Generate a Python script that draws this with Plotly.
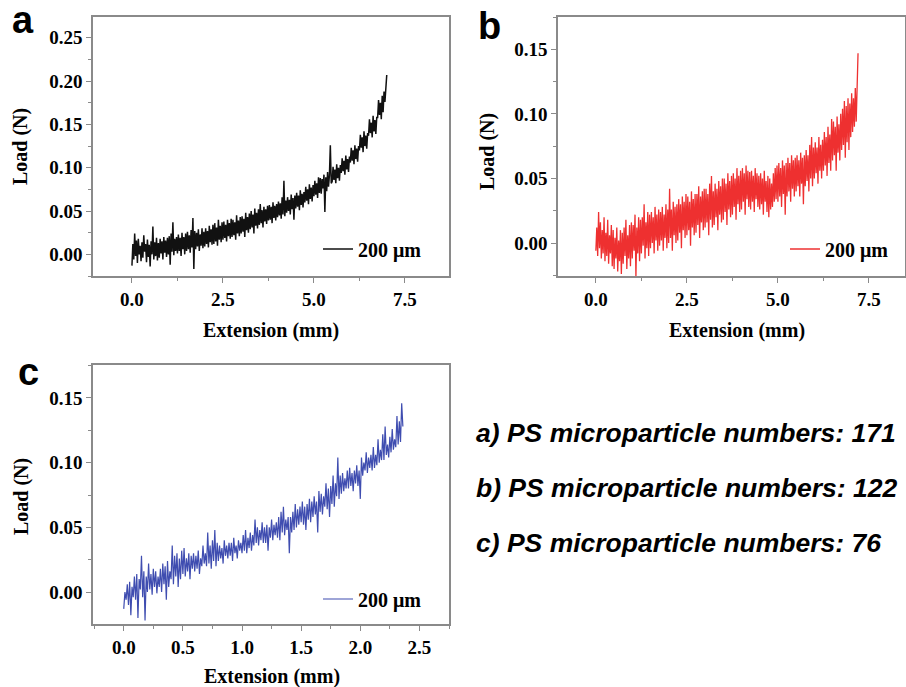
import numpy as np
import plotly.graph_objects as go

# ---------------- data ----------------
ext_end_a = 7.0
load_a = [
    -0.013, 0.012, -0.006, 0.024, -0.002, 0.016, -0.010, 0.018, 0.000, 0.010,
    -0.008, 0.014, -0.004, 0.022, 0.003, 0.012, -0.009, 0.017, -0.003, 0.011,
    -0.014, 0.015, 0.000, 0.032, -0.006, 0.014, -0.002, 0.019, -0.007, 0.013,
    -0.004, 0.018, 0.001, 0.015, -0.006, 0.020, 0.002, 0.016, -0.003, 0.019,
    0.000, 0.021, -0.012, 0.024, 0.003, 0.037, -0.001, 0.018, 0.004, 0.020,
    0.001, 0.023, 0.004, 0.019, -0.002, 0.025, 0.006, 0.020, 0.000, 0.024,
    0.004, 0.026, 0.006, 0.022, 0.002, 0.028, 0.008, 0.042, -0.017, 0.027,
    0.006, 0.025, 0.009, 0.029, 0.004, 0.023, 0.010, 0.030, 0.007, 0.026,
    0.009, 0.030, 0.012, 0.027, 0.008, 0.033, 0.014, 0.029, 0.011, 0.034,
    0.012, 0.036, 0.015, 0.031, 0.010, 0.040, 0.017, 0.033, 0.014, 0.037,
    0.017, 0.038, 0.019, 0.034, 0.015, 0.040, 0.021, 0.036, 0.018, 0.041,
    0.020, 0.040, 0.022, 0.037, 0.017, 0.045, 0.024, 0.039, 0.021, 0.043,
    0.024, 0.044, 0.026, 0.041, 0.020, 0.048, 0.028, 0.043, 0.025, 0.047,
    0.029, 0.050, 0.031, 0.046, 0.024, 0.053, 0.033, 0.048, 0.030, 0.052,
    0.034, 0.058, 0.036, 0.051, 0.031, 0.055, 0.038, 0.052, 0.035, 0.056,
    0.039, 0.057, 0.040, 0.055, 0.036, 0.060, 0.042, 0.056, 0.039, 0.058,
    0.043, 0.061, 0.045, 0.059, 0.041, 0.066, 0.046, 0.085, 0.044, 0.062,
    0.048, 0.066, 0.050, 0.063, 0.046, 0.069, 0.052, 0.065, 0.040, 0.068,
    0.053, 0.071, 0.055, 0.068, 0.051, 0.074, 0.057, 0.070, 0.054, 0.072,
    0.060, 0.078, 0.062, 0.075, 0.058, 0.081, 0.064, 0.077, 0.061, 0.080,
    0.067, 0.085, 0.069, 0.082, 0.065, 0.089, 0.071, 0.088, 0.070, 0.087,
    0.076, 0.092, 0.049, 0.089, 0.073, 0.095, 0.078, 0.091, 0.126, 0.082,
    0.084, 0.101, 0.086, 0.098, 0.082, 0.104, 0.088, 0.100, 0.085, 0.103,
    0.094, 0.111, 0.096, 0.108, 0.092, 0.114, 0.098, 0.110, 0.095, 0.113,
    0.106, 0.123, 0.108, 0.120, 0.104, 0.126, 0.110, 0.122, 0.107, 0.125,
    0.120, 0.138, 0.123, 0.135, 0.118, 0.142, 0.125, 0.137, 0.122, 0.140,
    0.137, 0.156, 0.140, 0.152, 0.135, 0.160, 0.142, 0.155, 0.139, 0.158,
    0.158, 0.178, 0.161, 0.175, 0.156, 0.183, 0.164, 0.188, 0.176, 0.200,
    0.207,
]

ext_end_b = 7.2
load_b = [
    -0.006, 0.012, -0.010, 0.024, -0.004, 0.016, -0.012, 0.010, -0.008, 0.020,
    -0.014, 0.008, -0.010, 0.018, -0.016, 0.006, -0.008, 0.014, -0.018, 0.010,
    -0.020, 0.004, -0.012, 0.012, -0.022, 0.002, -0.014, 0.010, -0.024, 0.008,
    -0.016, 0.012, -0.010, 0.018, -0.020, 0.006, -0.012, 0.014, -0.018, 0.016,
    -0.012, 0.014, -0.006, 0.022, -0.026, 0.012, -0.008, 0.020, -0.014, 0.018,
    -0.008, 0.020, -0.002, 0.030, -0.012, 0.016, -0.004, 0.024, -0.010, 0.022,
    -0.004, 0.024, 0.000, 0.020, -0.008, 0.028, 0.002, 0.022, -0.006, 0.026,
    -0.002, 0.024, 0.002, 0.028, -0.006, 0.022, 0.004, 0.030, -0.004, 0.026,
    0.000, 0.042, 0.004, 0.026, -0.006, 0.032, 0.006, 0.028, 0.000, 0.030,
    0.002, 0.034, 0.008, 0.030, -0.004, 0.036, 0.010, 0.032, 0.004, 0.038,
    0.006, 0.036, 0.010, 0.032, -0.002, 0.040, 0.012, 0.034, 0.006, 0.038,
    0.008, 0.038, 0.014, 0.044, 0.004, 0.036, 0.016, 0.040, 0.010, 0.042,
    0.012, 0.042, 0.016, 0.038, 0.006, 0.046, 0.018, 0.052, 0.012, 0.040,
    0.014, 0.046, 0.020, 0.042, 0.010, 0.048, 0.022, 0.044, 0.016, 0.050,
    0.018, 0.050, 0.024, 0.046, 0.014, 0.054, 0.026, 0.048, 0.020, 0.052,
    0.022, 0.054, 0.028, 0.050, 0.018, 0.058, 0.030, 0.052, 0.024, 0.056,
    0.026, 0.058, 0.032, 0.054, 0.022, 0.060, 0.034, 0.056, 0.028, 0.055,
    0.026, 0.056, 0.032, 0.052, 0.024, 0.058, 0.034, 0.054, 0.028, 0.052,
    0.026, 0.054, 0.030, 0.050, 0.022, 0.056, 0.032, 0.048, 0.024, 0.052,
    0.020, 0.050, 0.026, 0.046, 0.028, 0.054, 0.032, 0.058, 0.034, 0.060,
    0.032, 0.062, 0.036, 0.058, 0.028, 0.064, 0.038, 0.060, 0.022, 0.062,
    0.036, 0.066, 0.040, 0.062, 0.032, 0.068, 0.042, 0.064, 0.036, 0.066,
    0.040, 0.068, 0.044, 0.064, 0.036, 0.070, 0.046, 0.066, 0.030, 0.068,
    0.044, 0.072, 0.048, 0.068, 0.040, 0.076, 0.050, 0.082, 0.044, 0.074,
    0.050, 0.078, 0.054, 0.074, 0.046, 0.082, 0.056, 0.076, 0.050, 0.080,
    0.056, 0.086, 0.060, 0.082, 0.052, 0.090, 0.062, 0.084, 0.056, 0.096,
    0.064, 0.094, 0.068, 0.090, 0.056, 0.098, 0.070, 0.092, 0.064, 0.100,
    0.072, 0.104, 0.076, 0.110, 0.066, 0.106, 0.078, 0.112, 0.072, 0.108,
    0.082, 0.116, 0.086, 0.112, 0.090, 0.120, 0.094, 0.128, 0.147,
]

ext_end_c = 2.36
load_c = [
    -0.013, 0.000, -0.006, 0.006, -0.010, 0.008, -0.018, 0.004, -0.004, 0.012,
    -0.006, 0.014, -0.020, 0.010, 0.002, 0.028, -0.004, 0.016, -0.022, 0.012,
    0.000, 0.022, 0.002, 0.014, -0.002, 0.018, 0.004, 0.016, -0.001, 0.012,
    0.004, 0.018, 0.000, 0.022, 0.006, 0.020, -0.006, 0.024, 0.004, 0.016,
    0.010, 0.036, 0.006, 0.028, 0.012, 0.030, 0.004, 0.026, 0.010, 0.032,
    0.014, 0.034, 0.012, 0.026, 0.016, 0.030, 0.010, 0.028, 0.018, 0.030,
    0.016, 0.028, 0.018, 0.032, 0.014, 0.026, 0.020, 0.036, 0.022, 0.030,
    0.020, 0.046, 0.022, 0.036, 0.018, 0.040, 0.024, 0.048, 0.020, 0.038,
    0.024, 0.036, 0.026, 0.034, 0.022, 0.040, 0.028, 0.036, 0.026, 0.038,
    0.028, 0.038, 0.024, 0.042, 0.030, 0.036, 0.026, 0.040, 0.032, 0.038,
    0.030, 0.044, 0.032, 0.048, 0.030, 0.042, 0.034, 0.046, 0.032, 0.044,
    0.036, 0.056, 0.038, 0.050, 0.036, 0.048, 0.040, 0.054, 0.038, 0.050,
    0.038, 0.052, 0.032, 0.050, 0.042, 0.056, 0.040, 0.052, 0.044, 0.054,
    0.042, 0.058, 0.040, 0.062, 0.046, 0.066, 0.044, 0.056, 0.048, 0.058,
    0.030, 0.058, 0.046, 0.062, 0.048, 0.068, 0.050, 0.064, 0.052, 0.066,
    0.054, 0.070, 0.052, 0.066, 0.048, 0.068, 0.056, 0.072, 0.054, 0.070,
    0.058, 0.074, 0.060, 0.070, 0.046, 0.078, 0.062, 0.076, 0.060, 0.074,
    0.066, 0.084, 0.064, 0.080, 0.058, 0.082, 0.068, 0.090, 0.066, 0.084,
    0.074, 0.104, 0.072, 0.090, 0.076, 0.092, 0.078, 0.088, 0.080, 0.094,
    0.080, 0.096, 0.082, 0.092, 0.078, 0.094, 0.084, 0.098, 0.082, 0.094,
    0.072, 0.104, 0.090, 0.100, 0.094, 0.108, 0.092, 0.104, 0.096, 0.106,
    0.094, 0.112, 0.096, 0.106, 0.098, 0.118, 0.100, 0.110, 0.102, 0.122,
    0.102, 0.128, 0.106, 0.114, 0.104, 0.120, 0.108, 0.126, 0.110, 0.118,
    0.112, 0.136, 0.114, 0.132, 0.116, 0.146, 0.128,
]

# uniform sampling of the extension axis (instrument step)
ext_a = np.linspace(0, ext_end_a, len(load_a))
ext_b = np.linspace(0, ext_end_b, len(load_b))
ext_c = np.linspace(0, ext_end_c, len(load_c))

legend_label = "200 \u03bcm"
panel_letters = ["a", "b", "c"]
side_notes = [
    "a) PS microparticle numbers: 171",
    "b) PS microparticle numbers: 122",
    "c) PS microparticle numbers: 76",
]

# ---------------- figure ----------------
W, H = 906, 687
SERIF = "Liberation Serif"
SANS = "Liberation Sans"
FRAME = "#8a8a8a"
TICKFONT = dict(family=SERIF, size=19, color="black", weight="bold")

fig = go.Figure()
fig.add_trace(go.Scatter(x=ext_a, y=load_a, mode="lines", name=legend_label,
                         line=dict(color="#111111", width=1.5),
                         xaxis="x", yaxis="y", legend="legend", showlegend=True))
fig.add_trace(go.Scatter(x=ext_b, y=load_b, mode="lines", name=legend_label,
                         line=dict(color="#ee3030", width=1.3),
                         xaxis="x2", yaxis="y2", legend="legend2", showlegend=True))
fig.add_trace(go.Scatter(x=ext_c, y=load_c, mode="lines", name=legend_label,
                         line=dict(color="#3f4db0", width=1.2),
                         xaxis="x3", yaxis="y3", legend="legend3", showlegend=True))


def px_x(p):
    return p / W


def px_y(p):
    return 1 - p / H


def axis(domain, rng, dtick, fmt, anchor):
    return dict(domain=domain, range=rng, dtick=dtick, tick0=0, tickformat=fmt,
                showgrid=False, zeroline=False, showline=True, mirror=True,
                linecolor=FRAME, linewidth=1.5, ticks="outside", ticklen=5,
                tickwidth=1.2, tickcolor=FRAME, tickfont=TICKFONT,
                minor=dict(dtick=dtick / 2, tick0=0, ticks="outside", ticklen=3,
                           tickwidth=1, tickcolor=FRAME),
                anchor=anchor, ticklabelstandoff=0)


top_dom = [px_y(276), px_y(17)]
bot_dom = [px_y(624), px_y(365)]
left_dom = [px_x(93), px_x(449)]
right_dom = [px_x(558), px_x(905)]

legend_common = dict(font=dict(family=SERIF, size=20, color="black", weight="bold"),
                     bgcolor="rgba(0,0,0,0)", borderwidth=0,
                     xanchor="left", yanchor="middle", itemwidth=30,
                     tracegroupgap=0)

fig.update_layout(
    width=W, height=H, margin=dict(l=0, r=0, t=0, b=0),
    paper_bgcolor="white", plot_bgcolor="white", showlegend=True,
    xaxis=axis(left_dom, [-1.07, 8.71], 2.5, ".1f", "y"),
    yaxis=axis(top_dom, [-0.025, 0.274], 0.05, ".2f", "x"),
    xaxis2=axis(right_dom, [-1.04, 8.49], 2.5, ".1f", "y2"),
    yaxis2=axis(top_dom, [-0.0255, 0.175], 0.05, ".2f", "x2"),
    xaxis3=axis(left_dom, [-0.26, 2.75], 0.5, ".1f", "y3"),
    yaxis3=axis(bot_dom, [-0.0247, 0.1755], 0.05, ".2f", "x3"),
    legend=dict(x=px_x(318), y=px_y(249), **legend_common),
    legend2=dict(x=px_x(785), y=px_y(249), **legend_common),
    legend3=dict(x=px_x(318), y=px_y(599), **legend_common),
)

# axis titles
title_font = dict(family=SERIF, size=20, color="black")
for (xx, yy) in [(21, 147), (487, 152), (21, 497)]:
    fig.add_annotation(text="<b>Load (N)</b>", x=px_x(xx), y=px_y(yy),
                       xref="paper", yref="paper", showarrow=False,
                       xanchor="center", yanchor="middle",
                       textangle=-90, font=title_font)
for (xx, yy) in [(271, 330), (737, 330), (272, 676)]:
    fig.add_annotation(text="<b>Extension (mm)</b>", x=px_x(xx), y=px_y(yy),
                       xref="paper", yref="paper", showarrow=False,
                       xanchor="center", yanchor="middle",
                       font=title_font)

# panel letters
for letter, (xx, yy) in zip(panel_letters, [(23, 20), (489, 26), (28, 372)]):
    fig.add_annotation(text="<b>%s</b>" % letter, x=px_x(xx), y=px_y(yy),
                       xref="paper", yref="paper", showarrow=False,
                       xanchor="center", yanchor="middle",
                       font=dict(family=SANS, size=38, color="black"))

# side notes
for note, yy in zip(side_notes, [433, 488, 543]):
    fig.add_annotation(text="<b><i>%s</i></b>" % note, x=px_x(474), y=px_y(yy),
                       xref="paper", yref="paper", showarrow=False,
                       xanchor="left", yanchor="middle",
                       font=dict(family=SANS, size=26.5, color="black"))

fig.write_html("out.html",
               config={"displayModeBar": False},
               post_script="document.body.style.margin='0';"
                           "document.body.style.overflow='hidden';")
